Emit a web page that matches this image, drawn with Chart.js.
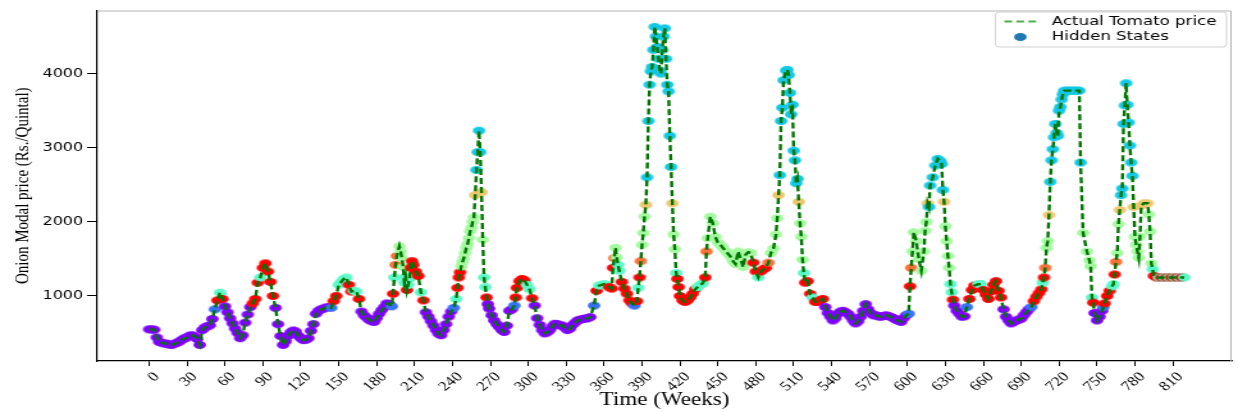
<!DOCTYPE html>
<html lang="en">
<head>
<meta charset="UTF-8">
<title>Hidden states over weekly price</title>
<script src="https://cdn.jsdelivr.net/npm/chart.js"></script>
<style>
  html, body { margin: 0; padding: 0; background: #fff; }
</style>
</head>
<body>
<!-- drawn narrower and stretched sideways, like the reference picture -->
<canvas id="grafico" width="967" height="413" style="display:block;width:1238px;height:413px"></canvas>
<script>
// weeks
const weeks = [
  0,2,4,6,8,10,12,14,16,18,
  20,22,24,26,28,30,32,34,36,38,
  40,42,44,46,48,50,52,54,56,58,
  60,62,64,66,68,70,72,74,76,78,
  80,82,84,86,88,90,92,94,96,98,
  100,102,104,106,108,110,112,114,116,118,
  120,122,124,126,128,130,132,134,136,138,
  140,142,144,146,148,150,152,154,156,158,
  160,162,164,166,168,170,172,174,176,178,
  180,182,184,186,188,190,192,193,194,195,
  196,
  198,199,200,201,202,203,204,205,206,207,
  208,209,211,213,215,217,219,221,223,225,
  227,229,231,233,235,237,239,241,243,244,
  245,246,247,248,249,250,251,252,253,254,
  255,256,257,258,259,260,261,262,263,264,
  265,266,267,268,269,271,273,275,277,279,
  281,283,285,287,289,290,291,293,295,297,
  299,301,303,305,307,309,311,313,315,317,
  319,321,323,325,327,329,331,333,335,337,
  339,341,343,345,347,349,
  352,354,356,358,360,362,364,366,367,368,
  369,370,371,372,374,376,378,380,382,384,
  386,387,388,389,390,391,392,393,394,395,
  396,397,398,399,400,401,402,403,404,405,
  406,407,408,409,410,411,412,413,414,415,
  416,417,418,419,420,422,424,426,428,430,
  432,434,436,438,440,441,442,444,446,448,
  450,452,454,456,458,460,462,464,466,468,
  470,472,474,476,478,480,482,484,486,488,
  490,492,494,496,497,498,499,500,501,502,
  504,505,506,507,508,509,510,511,512,513,
  514,515,516,517,518,519,521,523,525,527,
  529,531,533,535,537,539,541,543,545,547,
  549,551,553,555,557,559,561,563,565,567,
  569,571,573,575,577,579,581,583,585,587,
  589,591,593,595,597,599,601,602,603,604,
  605,607,609,611,613,614,615,616,617,618,
  620,622,624,626,627,628,629,630,631,632,
  633,634,635,636,637,639,641,643,645,647,
  649,651,653,
  656,658,660,662,664,666,668,670,672,674,
  676,678,680,682,684,686,688,690,692,694,
  696,698,700,702,704,706,707,708,709,710,
  711,712,713,714,715,716,717,718,719,720,
  721,722,723,724,726,728,730,732,734,736,
  737,739,742,744,745,746,747,748,750,752,
  754,755,756,758,760,762,763,764,765,766,
  767,768,769,770,771,772,773,774,775,776,
  777,778,779,780,781,782,783,784,785,787,
  790,791,792,793,794,795,
  797,799,801,803,805,807,809,811,813,815,817,819
];

// price, Rs./Quintal
const prices = [
  550,550,545,440,380,370,360,355,345,340,
  355,370,385,410,430,440,465,470,455,420,
  340,540,575,590,605,690,820,940,1045,960,
  860,780,700,630,560,500,430,470,640,750,
  850,900,960,1180,1250,1380,1440,1330,1190,1000,
  840,620,460,340,390,460,510,535,520,465,
  430,405,410,430,530,620,760,800,820,830,
  845,850,840,930,1000,1150,1190,1230,1250,1150,
  1060,1070,1060,960,790,740,710,680,660,650,
  700,760,810,850,900,890,860,1030,1250,1420,
  1540,
  1670,1600,1510,1390,1180,1260,1080,1150,1230,1380,
  1470,1420,1330,1270,1050,940,780,720,660,600,
  540,490,470,540,620,720,790,840,960,1110,
  1250,1320,1400,1460,1510,1580,1650,1700,1780,1870,
  1920,2000,2060,2360,2700,2940,3230,2940,2400,1760,
  1250,1120,980,890,830,740,670,620,580,540,
  515,600,800,820,870,980,1110,1200,1230,1210,
  1150,1090,970,870,700,610,540,495,510,540,
  590,625,620,605,600,570,540,560,610,640,
  670,680,690,695,700,715,
  870,1070,1140,1150,1160,1140,1120,1100,1380,1510,
  1650,1520,1420,1340,1190,1100,1030,940,900,870,
  930,1110,1250,1470,1690,1850,2070,2230,2600,3360,
  3850,4030,4090,4320,4630,4500,4360,4200,4040,4000,
  4320,4500,4610,4200,3850,3760,3160,2740,2250,1830,
  1630,1310,1230,1120,1000,940,920,940,980,1030,
  1090,1120,1150,1170,1250,1600,1780,2070,1980,1800,
  1720,1690,1650,1610,1570,1530,1470,1430,1600,1500,
  1390,1560,1590,1580,1450,1330,1250,1330,1360,1380,
  1450,1580,1640,1830,2050,2360,2630,3360,3540,3910,
  4040,4050,3980,3740,3450,3580,2960,2830,2520,2580,
  2270,1980,1800,1490,1310,1180,1200,1030,980,920,
  920,940,960,850,770,720,670,700,760,790,
  800,780,760,720,670,630,660,720,800,890,
  820,770,740,740,725,720,730,740,730,715,
  700,680,665,650,700,740,760,1130,1380,1600,
  1860,1740,1500,1340,1600,1880,2000,2250,2200,2490,
  2600,2760,2850,2820,2780,2430,2270,1940,1740,1540,
  1380,1160,1050,950,870,800,760,720,725,850,
  960,1080,1140,
  1160,1160,1080,1020,960,1060,1150,1200,1070,980,
  820,720,670,630,650,670,680,695,740,780,
  820,850,930,990,1040,1090,1180,1250,1380,1650,
  1740,2090,2540,2830,2980,3140,3320,3200,3160,3500,
  3550,3650,3720,3770,3770,3770,3770,3770,3770,3770,
  2800,1850,1600,1480,1400,980,910,770,670,720,
  800,850,900,1000,1070,1130,1160,1290,1460,1580,
  1970,2160,2360,2450,3320,3570,3870,3580,3340,3030,
  2800,2620,2200,1800,1690,1600,1515,1800,2220,2250,
  2250,2100,1870,1440,1360,1270,
  1250,1250,1250,1250,1250,1250,1250,1250,1250,1250,1250,1250
];

// hidden state of each week (0..7)
const states = [
  0,0,0,0,0,0,0,0,0,0,
  0,0,0,0,0,0,0,0,0,0,
  0,0,0,0,0,0,1,7,3,7,
  0,0,0,0,0,0,0,0,0,0,
  0,7,7,7,3,7,7,7,7,7,
  0,0,0,0,0,0,0,0,0,0,
  0,0,0,0,0,0,0,0,0,0,
  0,0,1,7,7,3,3,3,3,7,
  7,3,3,7,0,0,0,0,0,0,
  0,0,0,0,0,0,1,7,3,6,
  6,
  4,4,4,4,3,3,7,3,3,7,
  7,7,7,7,3,7,0,0,0,0,
  0,0,0,0,0,0,0,1,3,7,
  7,7,4,4,4,4,4,4,4,4,
  4,4,4,5,2,2,2,2,5,4,
  3,3,7,0,0,0,0,0,0,0,
  0,0,0,0,1,7,7,7,7,7,
  3,3,7,0,0,0,0,0,0,0,
  0,0,0,0,0,0,0,0,0,0,
  0,0,0,0,0,0,
  1,7,3,3,3,3,7,7,7,6,
  4,4,3,3,7,7,7,7,7,1,
  7,3,7,6,4,4,4,5,2,2,
  2,2,2,2,2,2,2,2,2,2,
  2,2,2,2,2,2,2,2,5,4,
  4,3,7,7,7,7,7,7,7,7,
  7,3,3,3,7,6,4,4,4,4,
  4,4,4,4,4,4,4,4,4,4,
  4,4,4,4,7,7,3,7,7,7,
  6,4,4,4,4,5,2,2,2,2,
  2,2,2,2,2,2,2,2,2,2,
  5,4,4,4,3,7,7,7,3,7,
  7,7,7,0,0,0,0,0,0,0,
  0,0,0,0,0,0,0,0,0,0,
  0,0,0,0,0,0,0,0,0,0,
  0,0,0,0,0,0,1,7,6,4,
  4,4,4,4,4,4,4,5,2,2,
  2,2,2,2,2,2,5,4,4,4,
  4,3,3,7,0,0,0,0,0,1,
  7,7,7,
  3,3,7,7,7,7,7,7,7,7,
  0,0,0,0,0,0,0,0,0,0,
  0,1,7,7,7,7,3,7,6,4,
  4,5,2,2,2,2,2,2,2,2,
  2,2,2,2,2,2,2,2,2,2,
  2,4,4,4,4,3,7,0,0,0,
  0,1,7,7,7,3,3,7,6,4,
  4,5,2,2,2,2,2,2,2,2,
  2,2,5,4,4,4,4,4,5,5,
  5,4,4,4,3,7,
  7,3,7,3,7,3,7,3,7,3,7,3
];

const xTicks = [0,30,60,90,120,150,180,210,240,270,300,330,360,390,420,450,480,510,540,570,600,630,660,690,720,750,780,810];
const yTicks = [1000,2000,3000,4000];

// rainbow colours, one per state
const stateColors = ['#8000ff','#3771f9','#12c8e6','#5bf9c7','#a4f99f','#edc76f','#ff6f39','#ff0000'];

function ellipseMarker(color) {
  const c = document.createElement('canvas');
  c.width = 12; c.height = 10;
  const g = c.getContext('2d');
  g.fillStyle = color;
  g.beginPath();
  g.ellipse(6, 5, 4.9, 4, 0, 0, Math.PI * 2);
  g.fill();
  return c;
}
const markers = stateColors.map(ellipseMarker);
const legendDot = ellipseMarker('#1f77b4');

const pontos = weeks.map((w, i) => ({ x: w, y: prices[i] }));

// top / right frame and the legend box inside the plot
const moldura = {
  id: 'moldura',
  afterDraw(chart) {
    const { ctx, chartArea: a } = chart;
    ctx.save();
    ctx.strokeStyle = '#b4b4b4';
    ctx.lineWidth = 1;
    ctx.beginPath();
    ctx.moveTo(a.left, a.top + 0.5);
    ctx.lineTo(a.right - 0.5, a.top + 0.5);
    ctx.lineTo(a.right - 0.5, a.bottom);
    ctx.stroke();

    const bw = 180.5, bh = 35;
    const bx = a.right - 4 - bw, by = 12;
    ctx.fillStyle = 'rgba(255,255,255,0.85)';
    ctx.strokeStyle = '#d2d2d2';
    ctx.beginPath();
    ctx.roundRect(bx, by, bw, bh, 3);
    ctx.fill();
    ctx.stroke();

    ctx.strokeStyle = '#4cae4c';
    ctx.lineWidth = 1.8;
    ctx.setLineDash([6, 3.4]);
    ctx.beginPath();
    ctx.moveTo(bx + 7, by + 9.5);
    ctx.lineTo(bx + 33, by + 9.5);
    ctx.stroke();
    ctx.setLineDash([]);
    ctx.drawImage(legendDot, bx + 19.5 - 6, by + 25 - 5);

    ctx.fillStyle = '#000';
    ctx.font = '13px "DejaVu Sans"';
    ctx.textBaseline = 'middle';
    ctx.fillText('Actual Tomato price', bx + 44, by + 9.8);
    ctx.fillText('Hidden States', bx + 44, by + 25);
    ctx.restore();
  }
};

const serif = '"Liberation Serif", "Times New Roman", serif';

new Chart(document.getElementById('grafico'), {
  type: 'scatter',
  data: {
    datasets: [
      {
        label: 'Actual Tomato price',
        data: pontos,
        showLine: true,
        borderColor: '#007500',
        borderWidth: 2.4,
        borderDash: [6, 3],
        pointRadius: 0,
        tension: 0,
        order: 0
      },
      {
        label: 'Hidden States',
        data: pontos,
        pointStyle: ctx => markers[states[ctx.dataIndex]],
        pointRadius: 4,
        order: 1
      }
    ]
  },
  options: {
    responsive: false,
    animation: false,
    devicePixelRatio: 1,
    layout: { padding: { top: 7, right: 0, left: 0, bottom: 0 } },
    plugins: {
      legend: { display: false },
      tooltip: { enabled: false }
    },
    scales: {
      x: {
        type: 'linear',
        min: -41,
        max: 856.5,
        afterBuildTicks: s => { s.ticks = xTicks.map(v => ({ value: v })); },
        afterFit: s => { s.height = 52; },
        ticks: {
          autoSkip: false,
          minRotation: 45,
          maxRotation: 45,
          labelOffset: 6,
          padding: 3,
          color: '#000',
          font: { family: serif, size: 13.5 },
          callback: v => String(v)
        },
        grid: { drawOnChartArea: false, drawTicks: true, tickLength: 5, color: '#000' },
        border: { color: '#000', width: 1.3 },
        title: {
          display: true,
          text: 'Time (Weeks)',
          color: '#000',
          font: { family: serif, size: 18 },
          padding: { top: 0, bottom: 2 }
        }
      },
      y: {
        min: 123,
        max: 4851,
        afterBuildTicks: s => { s.ticks = yTicks.map(v => ({ value: v })); },
        afterFit: s => { s.width = 76; },
        ticks: {
          padding: 3,
          color: '#000',
          font: { family: '"DejaVu Sans"', size: 12.5 },
          callback: v => String(v)
        },
        grid: { drawOnChartArea: false, drawTicks: true, tickLength: 8, color: '#000' },
        border: { color: '#000', width: 1.2 },
        title: {
          display: true,
          text: 'Onion Modal price (Rs./Quintal)',
          color: '#000',
          font: { family: serif, size: 15 },
          padding: { top: 9, bottom: 0 }
        }
      }
    }
  },
  plugins: [moldura]
});
</script>
</body>
</html>
